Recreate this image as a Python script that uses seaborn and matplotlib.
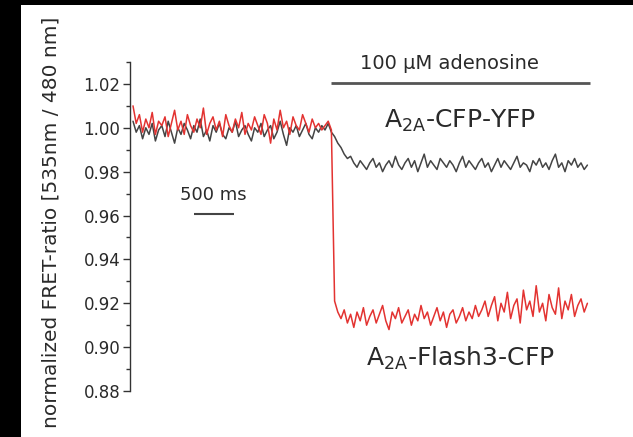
import numpy as np
import pandas as pd
import matplotlib
matplotlib.use("Agg")
import matplotlib.pyplot as plt
from matplotlib.patches import Rectangle
import seaborn as sns

# sampling interval of the traces (s)
dt = 0.04
t_step = 2.5  # adenosine added

gray_trace = [
    1.003, 0.998, 1.001, 0.995, 1.000, 0.997, 1.002, 0.994, 0.999, 1.001,
    0.996, 1.003, 0.998, 0.993, 1.000, 0.997, 1.002, 0.999, 0.995, 1.001,
    0.998, 1.004, 0.996, 0.999, 0.994, 1.001, 0.998, 1.002, 0.997, 0.995,
    1.000, 0.998, 1.003, 0.996, 0.999, 1.001, 0.997, 0.994, 1.000, 0.998,
    1.002, 0.996, 0.999, 1.001, 0.995, 0.998, 1.003, 0.997, 0.992, 1.000,
    0.998, 1.001, 0.996, 0.999, 1.002, 0.997, 0.995, 1.000, 0.998, 1.001,
    0.999, 1.002, 0.998,
    0.996, 0.993, 0.991, 0.988, 0.986, 0.987, 0.984, 0.982, 0.985, 0.983,
    0.981, 0.984, 0.986, 0.982, 0.984, 0.980, 0.983, 0.985, 0.982, 0.987,
    0.983, 0.981, 0.984, 0.986, 0.982, 0.985, 0.980, 0.984, 0.988, 0.982,
    0.985, 0.983, 0.981, 0.986, 0.984, 0.982, 0.985, 0.983, 0.980, 0.984,
    0.987, 0.982, 0.985, 0.983, 0.981, 0.984, 0.986, 0.982, 0.984, 0.980,
    0.983, 0.986, 0.982, 0.985, 0.983, 0.981, 0.984, 0.987, 0.982, 0.984,
    0.983, 0.980, 0.985, 0.983, 0.986, 0.982, 0.984, 0.981, 0.985, 0.988,
    0.982, 0.984, 0.980, 0.985, 0.983, 0.986, 0.982, 0.984, 0.981, 0.983,
]

red_trace = [
    1.010, 1.002, 1.006, 0.998, 1.004, 1.000, 1.007, 0.997, 1.003, 1.001,
    1.005, 0.996, 1.002, 1.008, 0.999, 1.003, 0.997, 1.006, 1.001, 0.998,
    1.004, 1.000, 1.009, 0.997, 1.002, 1.005, 0.999, 1.003, 0.996, 1.006,
    1.001, 0.998, 1.004, 1.000, 1.007, 0.997, 1.002, 0.999, 1.005, 1.001,
    0.997, 1.006, 1.002, 0.993, 1.004, 0.999, 1.008, 1.000, 1.003, 0.997,
    1.005, 1.001, 0.999, 1.006, 1.002, 0.998, 1.004, 1.000, 1.002, 0.999,
    1.001, 1.003, 0.999,
    0.921, 0.916, 0.913, 0.917, 0.911, 0.915, 0.909, 0.916, 0.912, 0.918,
    0.910, 0.914, 0.917, 0.911, 0.915, 0.919, 0.912, 0.908, 0.916, 0.913,
    0.918, 0.911, 0.914, 0.917, 0.910, 0.915, 0.912, 0.919, 0.913, 0.916,
    0.910, 0.914, 0.918, 0.912, 0.916, 0.909, 0.915, 0.917, 0.911, 0.914,
    0.918, 0.912, 0.916, 0.913, 0.919, 0.914,
    0.917, 0.921, 0.914, 0.919, 0.923, 0.912, 0.920, 0.916, 0.925, 0.913,
    0.919, 0.922, 0.911, 0.926, 0.917, 0.921, 0.914, 0.928, 0.916, 0.920,
    0.912, 0.924, 0.918, 0.915, 0.927, 0.913, 0.921, 0.917, 0.924, 0.914,
    0.919, 0.922, 0.916, 0.920,
]

construct_names = ["A2A-CFP-YFP", "A2A-Flash3-CFP"]
yticks = [0.88, 0.90, 0.92, 0.94, 0.96, 0.98, 1.00, 1.02]

time_s = np.arange(len(gray_trace)) * dt
df = pd.concat([
    pd.DataFrame({"t": time_s, "ratio": gray_trace, "construct": construct_names[0]}),
    pd.DataFrame({"t": time_s, "ratio": red_trace, "construct": construct_names[1]}),
])

sns.set_style("ticks")
plt.rcParams["font.family"] = ["DejaVu Sans"]
plt.rcParams["mathtext.default"] = "regular"

fig = plt.figure(figsize=(6.33, 4.37), dpi=100, facecolor="black")
# white canvas inside black frame (top / left)
fig.add_artist(Rectangle((21 / 633, 0), 1, 1 - 5 / 437, transform=fig.transFigure,
                         facecolor="white", edgecolor="none", zorder=-10))

ax = fig.add_axes([130 / 633, 1 - 391 / 437, 470 / 633, 329 / 437])
ax.patch.set_alpha(0)

sns.lineplot(data=df, x="t", y="ratio", hue="construct",
             palette={construct_names[0]: "#444444", construct_names[1]: "#e33331"},
             estimator=None, sort=False, linewidth=1.1, legend=False, ax=ax)

ax.set_xlim(-3 / 80, 467 / 80)
ax.set_ylim(0.88, 1.03)
ax.set_yticks(yticks)
ax.set_yticklabels([f"{v:.2f}" for v in yticks])
ax.set_yticks(np.arange(0.89, 1.03, 0.02), minor=True)
ax.tick_params(axis="y", which="major", direction="out", length=5, width=1,
               color="#333333", labelsize=12, labelcolor="#2a2a2a", pad=2)
ax.tick_params(axis="y", which="minor", direction="out", length=3, width=1,
               color="#333333")
ax.set_xticks([])
ax.set_xlabel("")
ax.set_ylabel("")
for s in ["top", "right", "bottom"]:
    ax.spines[s].set_visible(False)
ax.spines["left"].set_color("#333333")
ax.spines["left"].set_linewidth(1)

fig.text(51 / 633, 1 - 222 / 437, "normalized FRET-ratio [535nm / 480 nm]",
         rotation=90, ha="center", va="center", fontsize=14.5, color="#2a2a2a")

# adenosine bar
ax.plot([t_step - 0.02, 5.71], [1.0205, 1.0205], color="#555555", lw=2,
        clip_on=False, solid_capstyle="butt")
ax.text(3.96, 1.0295, "100 µM adenosine", ha="center", va="center",
        fontsize=14, color="#2a2a2a", clip_on=False)

# scale bar 500 ms
ax.plot([0.76, 1.26], [0.9605, 0.9605], color="#444444", lw=1.5,
        solid_capstyle="butt")
ax.text(1.01, 0.9695, "500 ms", ha="center", va="center", fontsize=13,
        color="#2a2a2a")

ax.text(4.09, 1.003, "A$_{2A}$-CFP-YFP", ha="center", va="center",
        fontsize=18, color="#2a2a2a")
ax.text(4.09, 0.895, "A$_{2A}$-Flash3-CFP", ha="center", va="center",
        fontsize=18, color="#2a2a2a")

fig.savefig("out.png", dpi=100, facecolor=fig.get_facecolor())
